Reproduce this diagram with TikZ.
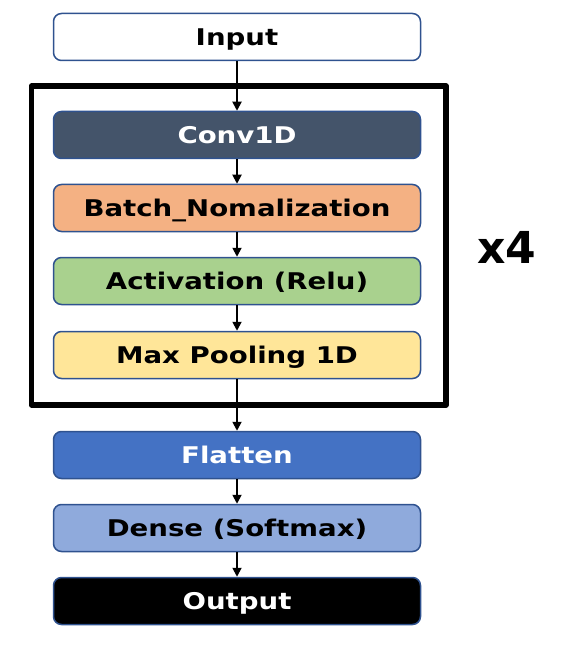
\documentclass[tikz,border=0pt]{standalone}
\usepackage{fontspec}
\setmainfont{DejaVu Sans}
\newfontfamily\layerfont{DejaVu Sans}[FakeStretch=1.2]
\usetikzlibrary{arrows.meta}

\definecolor{edgecol}{HTML}{2F528F}
\definecolor{convcol}{HTML}{44546A}
\definecolor{batchcol}{HTML}{F4B183}
\definecolor{actcol}{HTML}{A9D18E}
\definecolor{poolcol}{HTML}{FFE699}
\definecolor{flatcol}{HTML}{4472C4}
\definecolor{densecol}{HTML}{8FAADC}

\begin{document}
\begin{tikzpicture}[x=1pt, y=-1pt, line join=round,
  layer/.style={draw=edgecol, line width=1.5pt, rounded corners=8pt,
    minimum width=367pt, minimum height=47pt, inner sep=0pt,
    text height=16.8pt, text depth=0pt,
    font=\layerfont\bfseries\fontsize{23}{26}\selectfont},
  flow/.style={-{Triangle[length=9pt,width=9pt]}, line width=1.8pt}]

\useasboundingbox (0,0) rectangle (564,660);

% layers
\node (input) at (237,37) [layer, fill=white] {Input};
\node (conv) at (237,135) [layer, fill=convcol, text=white] {Conv1D};
\node (batch) at (237,208) [layer, fill=batchcol] {Batch\_Nomalization};
\node (act) at (237,281) [layer, fill=actcol] {Activation (Relu)};
\node (pool) at (237,355) [layer, fill=poolcol] {Max Pooling 1D};
\node (flat) at (237,455) [layer, fill=flatcol, text=white] {Flatten};
\node (dense) at (237,528) [layer, fill=densecol] {Dense (Softmax)};
\node (output) at (237,601) [layer, fill=black, text=white] {Output};

% repeated block
\draw[line width=5.5pt] (31.5,86) rectangle (446,405);
\node (times) at (507,247) [font=\bfseries\fontsize{44}{48}\selectfont] {x4};

\draw[flow] (input) -- (conv);
\draw[flow] (conv) -- (batch);
\draw[flow] (batch) -- (act);
\draw[flow] (act) -- (pool);
\draw[flow] (pool) -- (flat);
\draw[flow] (flat) -- (dense);
\draw[flow] (dense) -- (output);

\end{tikzpicture}
\end{document}
